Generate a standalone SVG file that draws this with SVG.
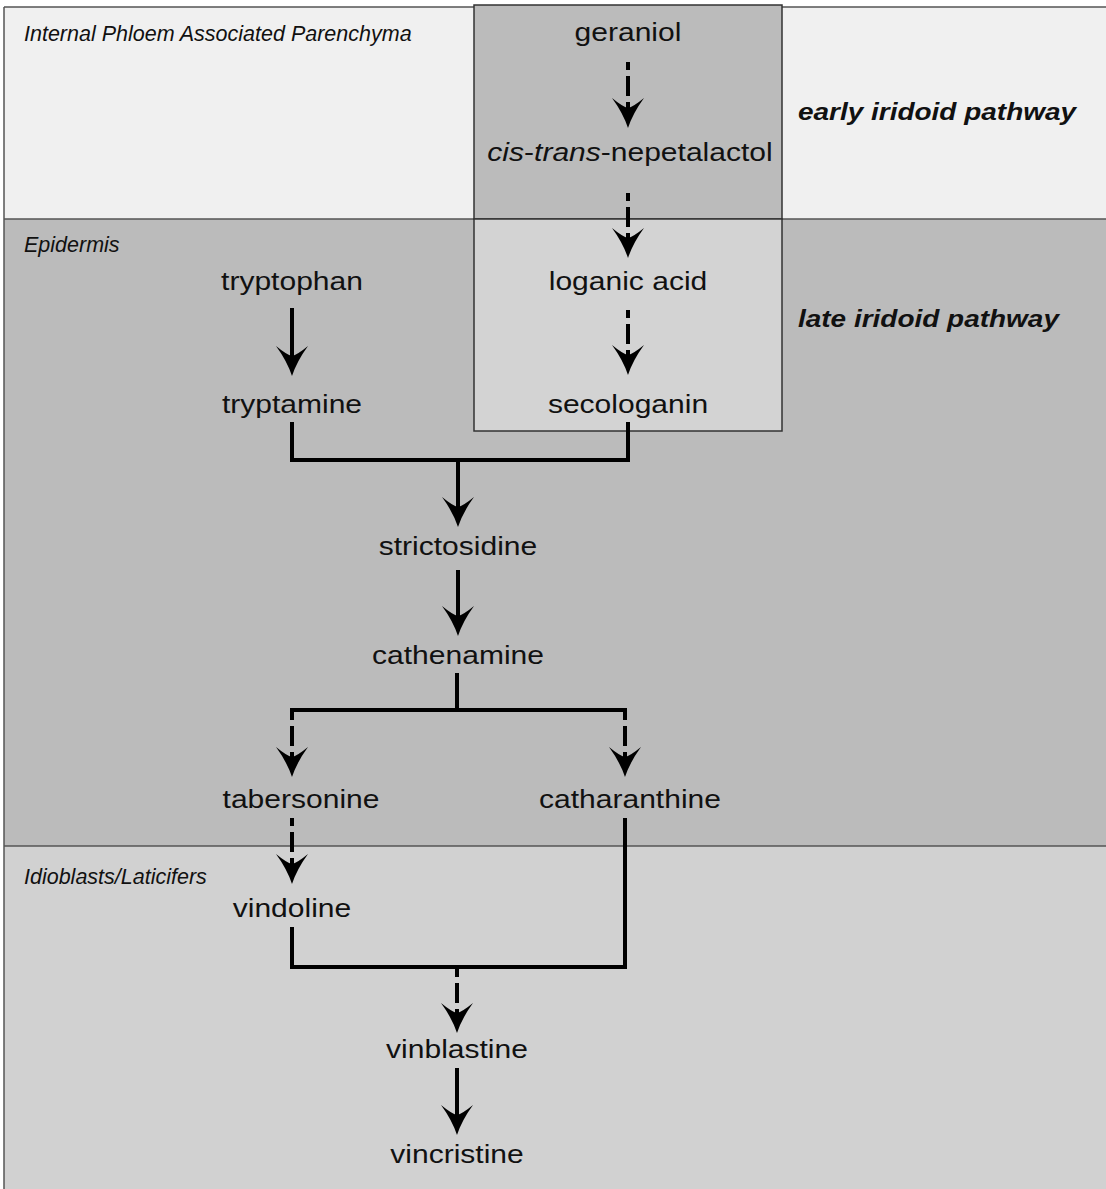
<svg xmlns="http://www.w3.org/2000/svg" xmlns:xlink="http://www.w3.org/1999/xlink" width="1106" height="1189" viewBox="0 0 1106 1189">
<style>
.lbl{font-family:"Liberation Sans",Arial,sans-serif;font-size:26px;fill:#111;text-anchor:middle}
.zone{font-family:"Liberation Sans",Arial,sans-serif;font-size:21.5px;font-style:italic;fill:#111}
.path{font-family:"Liberation Sans",Arial,sans-serif;font-size:24px;font-style:italic;font-weight:bold;fill:#111}
.solid{stroke:#000;stroke-width:4;fill:none}
.dash{stroke:#000;stroke-width:4;fill:none;stroke-dasharray:8 6 20 6}
.band{stroke:#555;stroke-width:1.5}
</style>
<defs>
<path id="ah" d="M0,0 Q-5,-15 -16,-30 Q-5,-21 0,-20 Q5,-21 16,-30 Q5,-15 0,0 Z" fill="#000"/>
</defs>
<g id="zones">
<rect x="4" y="7" width="1104" height="212" fill="#f0f0f0"/>
<rect x="4" y="219" width="1104" height="627" fill="#bbbbbb"/>
<rect x="4" y="846" width="1104" height="345" fill="#d1d1d1"/>
<line class="band" x1="4" y1="7" x2="1106" y2="7"/>
<line class="band" x1="4" y1="219" x2="1106" y2="219"/>
<line class="band" x1="4" y1="846" x2="1106" y2="846"/>
<line class="band" x1="4" y1="7" x2="4" y2="1189"/>
<text class="zone" x="24" y="41">Internal Phloem Associated Parenchyma</text>
<text class="zone" x="24" y="252">Epidermis</text>
<text class="zone" x="24" y="884">Idioblasts/Laticifers</text>
</g>
<g id="early-box">
<rect x="474" y="5" width="308" height="214" fill="#bbbbbb" stroke="#333" stroke-width="1.5"/>
<text class="path" transform="translate(798,120) scale(1.165,1)">early iridoid pathway</text>
</g>
<g id="late-box">
<rect x="474" y="219" width="308" height="212" fill="#d3d3d3" stroke="#333" stroke-width="1.5"/>
<text class="path" transform="translate(798,327) scale(1.165,1)">late iridoid pathway</text>
</g>
<g id="n-geraniol"><text class="lbl" transform="translate(628,41) scale(1.155,1)">geraniol</text></g>
<g id="n-nepetalactol"><text class="lbl" transform="translate(630,161) scale(1.155,1)"><tspan font-style="italic">cis</tspan>-<tspan font-style="italic">trans</tspan>-nepetalactol</text></g>
<g id="n-loganic"><text class="lbl" transform="translate(628,290) scale(1.155,1)">loganic acid</text></g>
<g id="n-secologanin"><text class="lbl" transform="translate(628,413) scale(1.155,1)">secologanin</text></g>
<g id="n-tryptophan"><text class="lbl" transform="translate(292,290) scale(1.155,1)">tryptophan</text></g>
<g id="n-tryptamine"><text class="lbl" transform="translate(292,413) scale(1.155,1)">tryptamine</text></g>
<g id="n-strictosidine"><text class="lbl" transform="translate(458,555) scale(1.155,1)">strictosidine</text></g>
<g id="n-cathenamine"><text class="lbl" transform="translate(458,664) scale(1.155,1)">cathenamine</text></g>
<g id="n-tabersonine"><text class="lbl" transform="translate(301,808) scale(1.155,1)">tabersonine</text></g>
<g id="n-catharanthine"><text class="lbl" transform="translate(630,808) scale(1.155,1)">catharanthine</text></g>
<g id="n-vindoline"><text class="lbl" transform="translate(292,917) scale(1.155,1)">vindoline</text></g>
<g id="n-vinblastine"><text class="lbl" transform="translate(457,1058) scale(1.155,1)">vinblastine</text></g>
<g id="n-vincristine"><text class="lbl" transform="translate(457,1163) scale(1.155,1)">vincristine</text></g>
<g id="connectors">
<line class="dash" x1="628" y1="62" x2="628" y2="108"/>
<use xlink:href="#ah" x="628" y="128"/>
<line class="dash" x1="628" y1="193" x2="628" y2="238"/>
<use xlink:href="#ah" x="628" y="258"/>
<line class="dash" x1="628" y1="310" x2="628" y2="355"/>
<use xlink:href="#ah" x="628" y="375"/>
<line class="solid" x1="292" y1="308" x2="292" y2="356"/>
<use xlink:href="#ah" x="292" y="376"/>
<polyline class="solid" points="292,422 292,460 628,460 628,422"/>
<line class="solid" x1="458" y1="460" x2="458" y2="507"/>
<use xlink:href="#ah" x="458" y="527"/>
<line class="solid" x1="458" y1="570" x2="458" y2="616"/>
<use xlink:href="#ah" x="458" y="636"/>
<line class="solid" x1="457" y1="673" x2="457" y2="710"/>
<line class="solid" x1="290" y1="710" x2="627" y2="710"/>
<line class="dash" x1="292" y1="712" x2="292" y2="757"/>
<use xlink:href="#ah" x="292" y="777"/>
<line class="dash" x1="625" y1="712" x2="625" y2="757"/>
<use xlink:href="#ah" x="625" y="777"/>
<line class="dash" x1="292" y1="818" x2="292" y2="864"/>
<use xlink:href="#ah" x="292" y="884"/>
<polyline class="solid" points="292,927 292,967 625,967 625,818"/>
<line class="dash" x1="457" y1="969" x2="457" y2="1013"/>
<use xlink:href="#ah" x="457" y="1033"/>
<line class="solid" x1="457" y1="1068" x2="457" y2="1115"/>
<use xlink:href="#ah" x="457" y="1135"/>
</g>
</svg>
